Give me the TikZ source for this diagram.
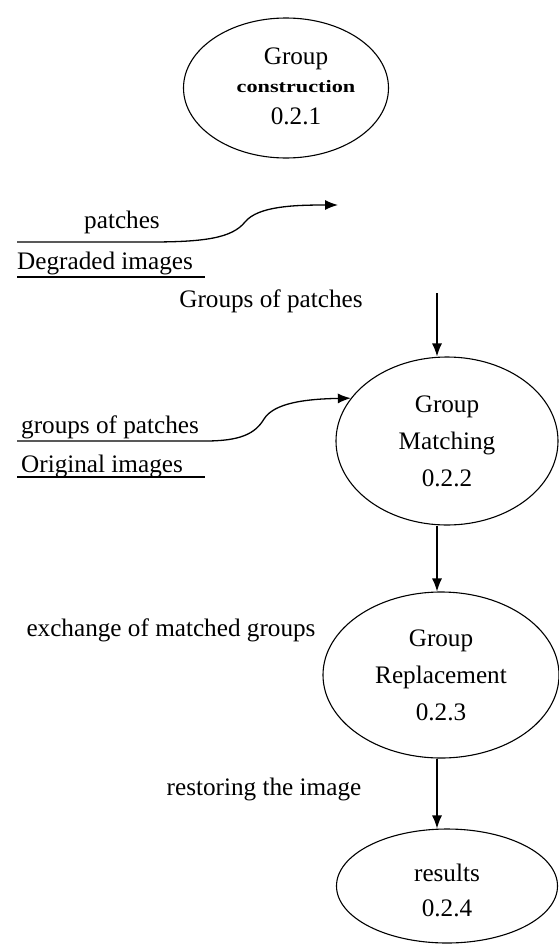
\documentclass[tikz,border=0pt]{standalone}
\usepackage{fontspec}
\setmainfont{Liberation Serif}
\usetikzlibrary{shapes.geometric,arrows.meta}
\begin{document}
\begin{tikzpicture}[x=1pt,y=-1pt,
  proc/.style={draw,ellipse,line width=1.1pt,inner sep=0pt,align=center,
     font=\fontsize{25.2}{37}\selectfont},
  ptext/.style={inner sep=0pt,align=center,font=\fontsize{25.2}{37}\selectfont},
  lbl/.style={inner sep=0pt,font=\fontsize{25.2}{30}\selectfont},
  flow/.style={line width=1.3pt,-{Latex[length=13pt,width=10pt]}},
  uline/.style={line width=1.1pt}]
\useasboundingbox (0,0) rectangle (559,945);
% processes
\node[proc,minimum width=205pt,minimum height=140pt] (e1) at (286,88) {};
\node[ptext] (e1t) at (296,86)
  {Group\\[-9pt]\scalebox{1.27}[1]{\fontsize{17.5}{20}\selectfont\bfseries construction}\\[-5pt]0.2.1};
\node[proc,minimum width=222pt,minimum height=168pt] (e2) at (447,441)
  {Group\\Matching\\0.2.2};
\node[proc,minimum width=236pt,minimum height=166pt] (e3) at (441,675)
  {Group\\Replacement\\0.2.3};
\node[proc,minimum width=221pt,minimum height=114pt] (e4) at (447,886) {};
\node[ptext] (e4t) at (447,890) {results\\[-2pt]0.2.4};
% labels
\node[lbl,anchor=base] (tp) at (122,228) {patches};
\node[lbl,anchor=base west] (td) at (17,269) {Degraded images};
\node[lbl,anchor=base] (tg) at (271,307) {Groups of patches};
\node[lbl,anchor=base west] (tgp) at (21,433) {groups of patches};
\node[lbl,anchor=base west] (to) at (21,472) {Original images};
\node[lbl,anchor=base] (tx) at (171,636) {exchange of matched groups};
\node[lbl,anchor=base] (tr) at (264,795) {restoring the image};
% coordinates
\coordinate (s1) at (17,242);
\coordinate (k1) at (150,242);
\coordinate (m1) at (245,222);
\coordinate (f1) at (338,205);
\coordinate (u1a) at (17,277);
\coordinate (u1b) at (205,277);
\coordinate (s2) at (17,441);
\coordinate (k2) at (205,441);
\coordinate (m2) at (264,419);
\coordinate (u2a) at (17,477);
\coordinate (u2b) at (205,477);
\coordinate (c1) at (437,293);
% flows
\draw[flow] (s1) -- (k1) .. controls (205,242) and (232,238) .. (m1)
   .. controls (258,206) and (295,205) .. (f1);
\draw[uline] (u1a) -- (u1b);
\draw[flow] (s2) -- (k2) .. controls (240,441) and (255,434) .. (m2)
   .. controls (274,403) and (305,399) .. (e2.156);
\draw[uline] (u2a) -- (u2b);
\draw[flow] (c1) -- (c1 |- e2.north);
\draw[flow] (c1 |- e2.south) -- (c1 |- e3.north);
\draw[flow] (c1 |- e3.south) -- (c1 |- e4.north);
\end{tikzpicture}
\end{document}
